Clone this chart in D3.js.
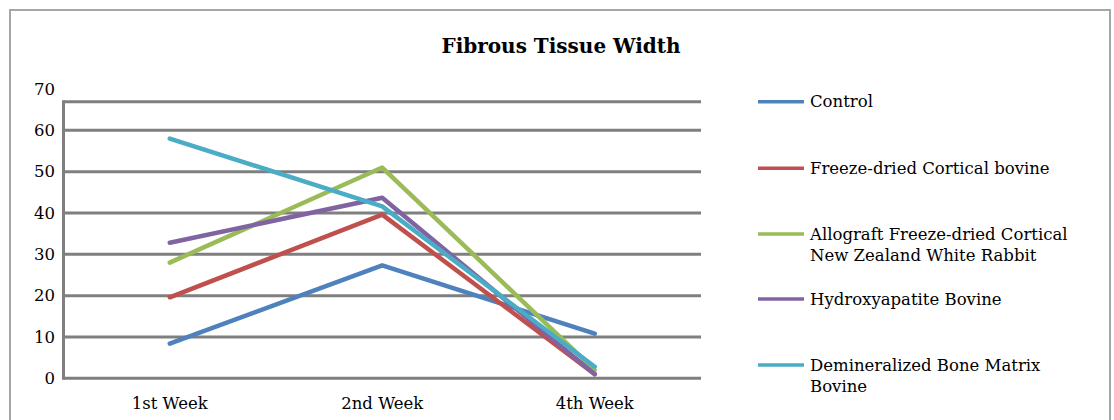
<!DOCTYPE html>
<html>
<head>
<meta charset="utf-8">
<script src="https://cdn.jsdelivr.net/npm/d3@7"></script>
<style>
  html, body { margin: 0; padding: 0; background: #fff; }
  svg { display: block; }
</style>
</head>
<body>
<svg id="chart" width="1114" height="420"></svg>
<script>
const categories = ["1st Week", "2nd Week", "4th Week"];
const seriesNames = [
  ["Control"],
  ["Freeze-dried Cortical bovine"],
  ["Allograft Freeze-dried Cortical", "New Zealand White Rabbit"],
  ["Hydroxyapatite Bovine"],
  ["Demineralized Bone Matrix", "Bovine"]
];
const control = [8.4, 27.3, 10.8];
const freezeDried = [19.6, 39.6, 1.0];
const allograft = [28.0, 51.0, 2.0];
const hydroxyapatite = [32.8, 43.7, 1.0];
const demineralized = [58.0, 41.6, 2.8];
const yTicks = [0, 10, 20, 30, 40, 50, 60, 70];
const colors = ["#4F81BD", "#C0504D", "#9BBB59", "#8064A2", "#4BACC6"];
const title = "Fibrous Tissue Width";

const allSeries = [control, freezeDried, allograft, hydroxyapatite, demineralized];

const svg = d3.select("#chart");
const font = "'DejaVu Serif', 'Liberation Serif', serif";
const fs = 16.5;

// outer border
svg.append("rect").attr("x", 10).attr("y", 10).attr("width", 1100).attr("height", 420)
  .attr("fill", "#fff").attr("stroke", "#a6a6a6").attr("stroke-width", 2);

const plotLeft = 63.5, plotRight = 701, plotTop = 101.7, plotBottom = 378.3;

const x = d3.scaleBand().domain(categories).range([plotLeft, plotRight]);
const y = d3.scaleLinear().domain([0, 70]).range([plotBottom, 89]);

// gridlines
svg.append("g").selectAll("line").data(yTicks.filter(t => t > 0 && t < 70)).join("line")
  .attr("x1", plotLeft).attr("x2", plotRight)
  .attr("y1", d => y(d)).attr("y2", d => y(d))
  .attr("stroke", "#7f7f7f").attr("stroke-width", 3);

// frame
svg.append("line").attr("x1", plotLeft).attr("x2", plotRight).attr("y1", plotTop).attr("y2", plotTop)
  .attr("stroke", "#7f7f7f").attr("stroke-width", 3);
svg.append("line").attr("x1", plotLeft).attr("x2", plotLeft).attr("y1", plotTop - 1.5).attr("y2", plotBottom + 1.5)
  .attr("stroke", "#7f7f7f").attr("stroke-width", 3);
svg.append("line").attr("x1", plotLeft).attr("x2", plotRight).attr("y1", y(0)).attr("y2", y(0))
  .attr("stroke", "#7f7f7f").attr("stroke-width", 3);

// y tick labels
svg.append("g").selectAll("text").data(yTicks).join("text")
  .attr("x", 55).attr("y", d => y(d)).attr("dy", "0.35em")
  .attr("text-anchor", "end").attr("font-family", font).attr("font-size", fs).attr("fill", "#000")
  .text(d => d);

// x labels
svg.append("g").selectAll("text").data(categories).join("text")
  .attr("x", d => x(d) + x.bandwidth() / 2).attr("y", 409)
  .attr("text-anchor", "middle").attr("font-family", font).attr("font-size", fs).attr("fill", "#000")
  .text(d => d);

// lines
const line = d3.line().x((d, i) => x(categories[i]) + x.bandwidth() / 2).y(d => y(d));
svg.append("g").selectAll("path").data(allSeries).join("path")
  .attr("d", d => line(d)).attr("fill", "none")
  .attr("stroke", (d, i) => colors[i]).attr("stroke-width", 4.5)
  .attr("stroke-linejoin", "round").attr("stroke-linecap", "round");

// title
svg.append("text").attr("x", 561).attr("y", 53).attr("text-anchor", "middle")
  .attr("font-family", font).attr("font-weight", "bold").attr("font-size", 20).attr("fill", "#000")
  .text(title);

// legend
const legendY = [101.7, 168.3, 234, 299, 365];
const lg = svg.append("g").selectAll("g").data(seriesNames).join("g")
  .attr("transform", (d, i) => `translate(758,${legendY[i]})`);
lg.append("line").attr("x1", 0).attr("x2", 46).attr("y1", 0).attr("y2", 0)
  .attr("stroke", (d, i) => colors[i]).attr("stroke-width", 3.5);
lg.each(function(d) {
  const t = d3.select(this).append("text").attr("font-family", font).attr("font-size", fs).attr("fill", "#000");
  d.forEach((s, j) => {
    t.append("tspan").attr("x", 52).attr("y", j * 21.5).attr("dy", "0.35em").text(s);
  });
});
</script>
</body>
</html>
